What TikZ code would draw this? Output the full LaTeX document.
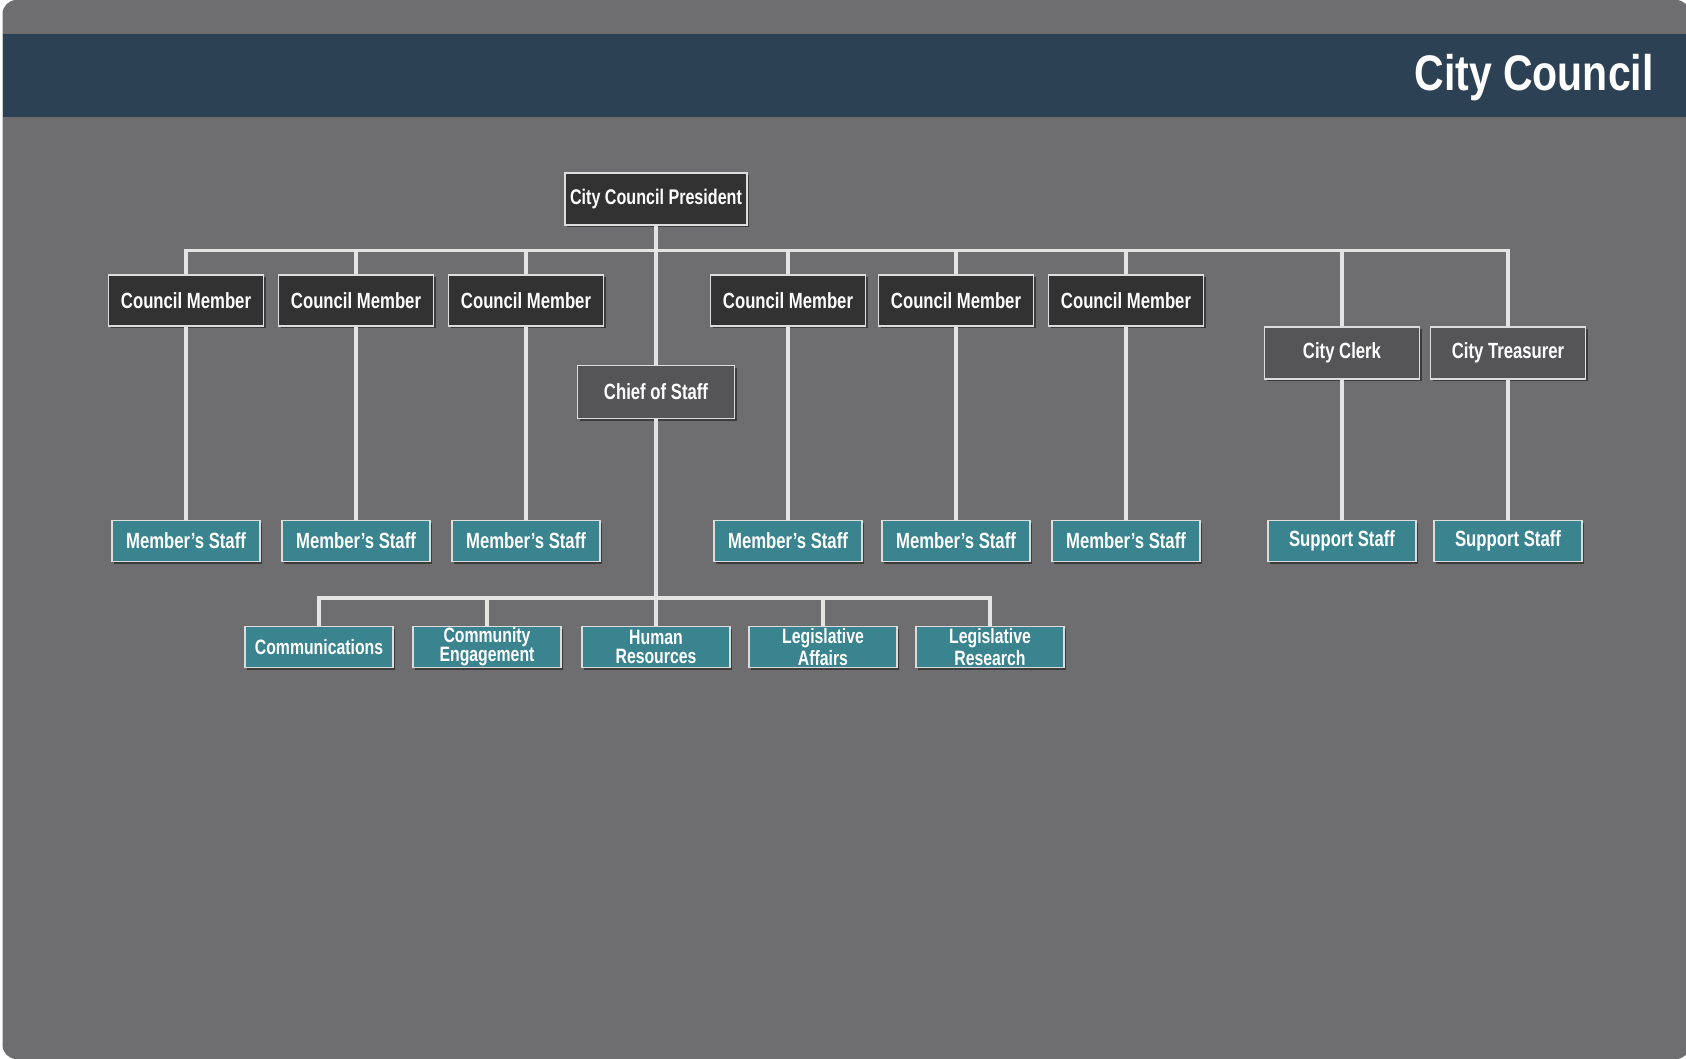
\documentclass[tikz,border=0pt]{standalone}
\usepackage{fontspec}
\usetikzlibrary{shadows}
\newfontfamily\condfont[FakeStretch=0.76]{Liberation Sans}
\newfontfamily\titlefont[FakeStretch=0.82]{Liberation Sans}
\definecolor{bggray}{RGB}{110,110,112}
\definecolor{headblue}{RGB}{45,65,85}
\definecolor{darkbox}{RGB}{51,50,51}
\definecolor{midbox}{RGB}{85,85,87}
\definecolor{tealbox}{RGB}{58,132,143}
\definecolor{linecol}{RGB}{228,228,226}
\definecolor{bordercol}{RGB}{220,220,220}
\tikzset{
  basebox/.style={draw=bordercol, line width=0.7pt, text=white, align=center, inner sep=0pt,
    drop shadow={shadow xshift=1pt, shadow yshift=-1pt, opacity=0.45, fill=black}},
  darkstyle/.style={basebox, fill=darkbox, minimum width=77.5pt, minimum height=25.5pt,
    font=\condfont\bfseries\fontsize{11}{12}\selectfont},
  presstyle/.style={darkstyle, minimum width=91pt, minimum height=26pt,
    font=\condfont\bfseries\fontsize{10.6}{12}\selectfont},
  midstyle/.style={basebox, fill=midbox, minimum width=77.5pt, minimum height=26pt,
    font=\condfont\bfseries\fontsize{11}{12}\selectfont},
  tealstyle/.style={basebox, fill=tealbox, minimum width=74pt, minimum height=20.5pt,
    font=\condfont\bfseries\fontsize{11}{8.8}\selectfont},
  subteal/.style={tealstyle, font=\condfont\bfseries\fontsize{10.4}{9.4}\selectfont},
  conn/.style={draw=linecol, line width=1.8pt}
}
\begin{document}
\begin{tikzpicture}[x=0.5pt, y=-0.5pt]
\useasboundingbox (0,0) rectangle (1686,1059);
\fill[white] (0,0) rectangle (1686,1059);
\fill[bggray, rounded corners=7pt] (2.5,0) rectangle (1690,1059);
\fill[headblue] (2.5,34) rectangle (1690,117);
\node[anchor=base east, text=white, font=\titlefont\bfseries\fontsize{25}{30}\selectfont, inner sep=0pt] (title) at (1654,91) {City Council};

% coordinates for the buses
\coordinate (busy) at (0,250.5);
\coordinate (subbusy) at (0,598);

% nodes
\node[presstyle] (pres) at (656,199) {City Council President};
\node[darkstyle] (cm1) at (186,300.5) {Council Member};
\node[darkstyle] (cm2) at (356,300.5) {Council Member};
\node[darkstyle] (cm3) at (526,300.5) {Council Member};
\node[darkstyle] (cm4) at (788,300.5) {Council Member};
\node[darkstyle] (cm5) at (956,300.5) {Council Member};
\node[darkstyle] (cm6) at (1126,300.5) {Council Member};
\node[midstyle, minimum width=78.5pt, minimum height=26.5pt] (chief) at (656,392) {Chief of Staff};
\node[midstyle] (clerk) at (1342,353) {City Clerk};
\node[midstyle] (treas) at (1508,353) {City Treasurer};

\node[tealstyle] (ms1) at (186,541) {Member’s Staff};
\node[tealstyle] (ms2) at (356,541) {Member’s Staff};
\node[tealstyle] (ms3) at (526,541) {Member’s Staff};
\node[tealstyle] (ms4) at (788,541) {Member’s Staff};
\node[tealstyle] (ms5) at (956,541) {Member’s Staff};
\node[tealstyle] (ms6) at (1126,541) {Member’s Staff};
\node[tealstyle] (ss1) at (1342,541) {Support Staff};
\node[tealstyle] (ss2) at (1508,541) {Support Staff};

\node[subteal] (comm) at (319,647) {Communications};
\node[subteal] (ce) at (487,647) {Community\\Engagement};
\node[subteal] (hr) at (656,647) {Human\\Resources};
\node[subteal] (la) at (823,647) {Legislative\\Affairs};
\node[subteal] (lr) at (990,647) {Legislative\\Research};

% connectors
\draw[conn] (cm1.north) -- (cm1.north |- busy) -- (treas.north |- busy) -- (treas.north);
\foreach \n in {cm2,cm3,cm4,cm5,cm6,clerk}{
  \draw[conn] (\n.north) -- (\n.north |- busy);
}
\draw[conn] (pres.south) -- (chief.north);
\draw[conn] (chief.south) -- (hr.north);
\draw[conn] (comm.north) -- (comm.north |- subbusy) -- (lr.north |- subbusy) -- (lr.north);
\foreach \n in {ce,la}{
  \draw[conn] (\n.north) -- (\n.north |- subbusy);
}
\draw[conn] (cm1.south) -- (ms1.north);
\draw[conn] (cm2.south) -- (ms2.north);
\draw[conn] (cm3.south) -- (ms3.north);
\draw[conn] (cm4.south) -- (ms4.north);
\draw[conn] (cm5.south) -- (ms5.north);
\draw[conn] (cm6.south) -- (ms6.north);
\draw[conn] (clerk.south) -- (ss1.north);
\draw[conn] (treas.south) -- (ss2.north);
\end{tikzpicture}
\end{document}
